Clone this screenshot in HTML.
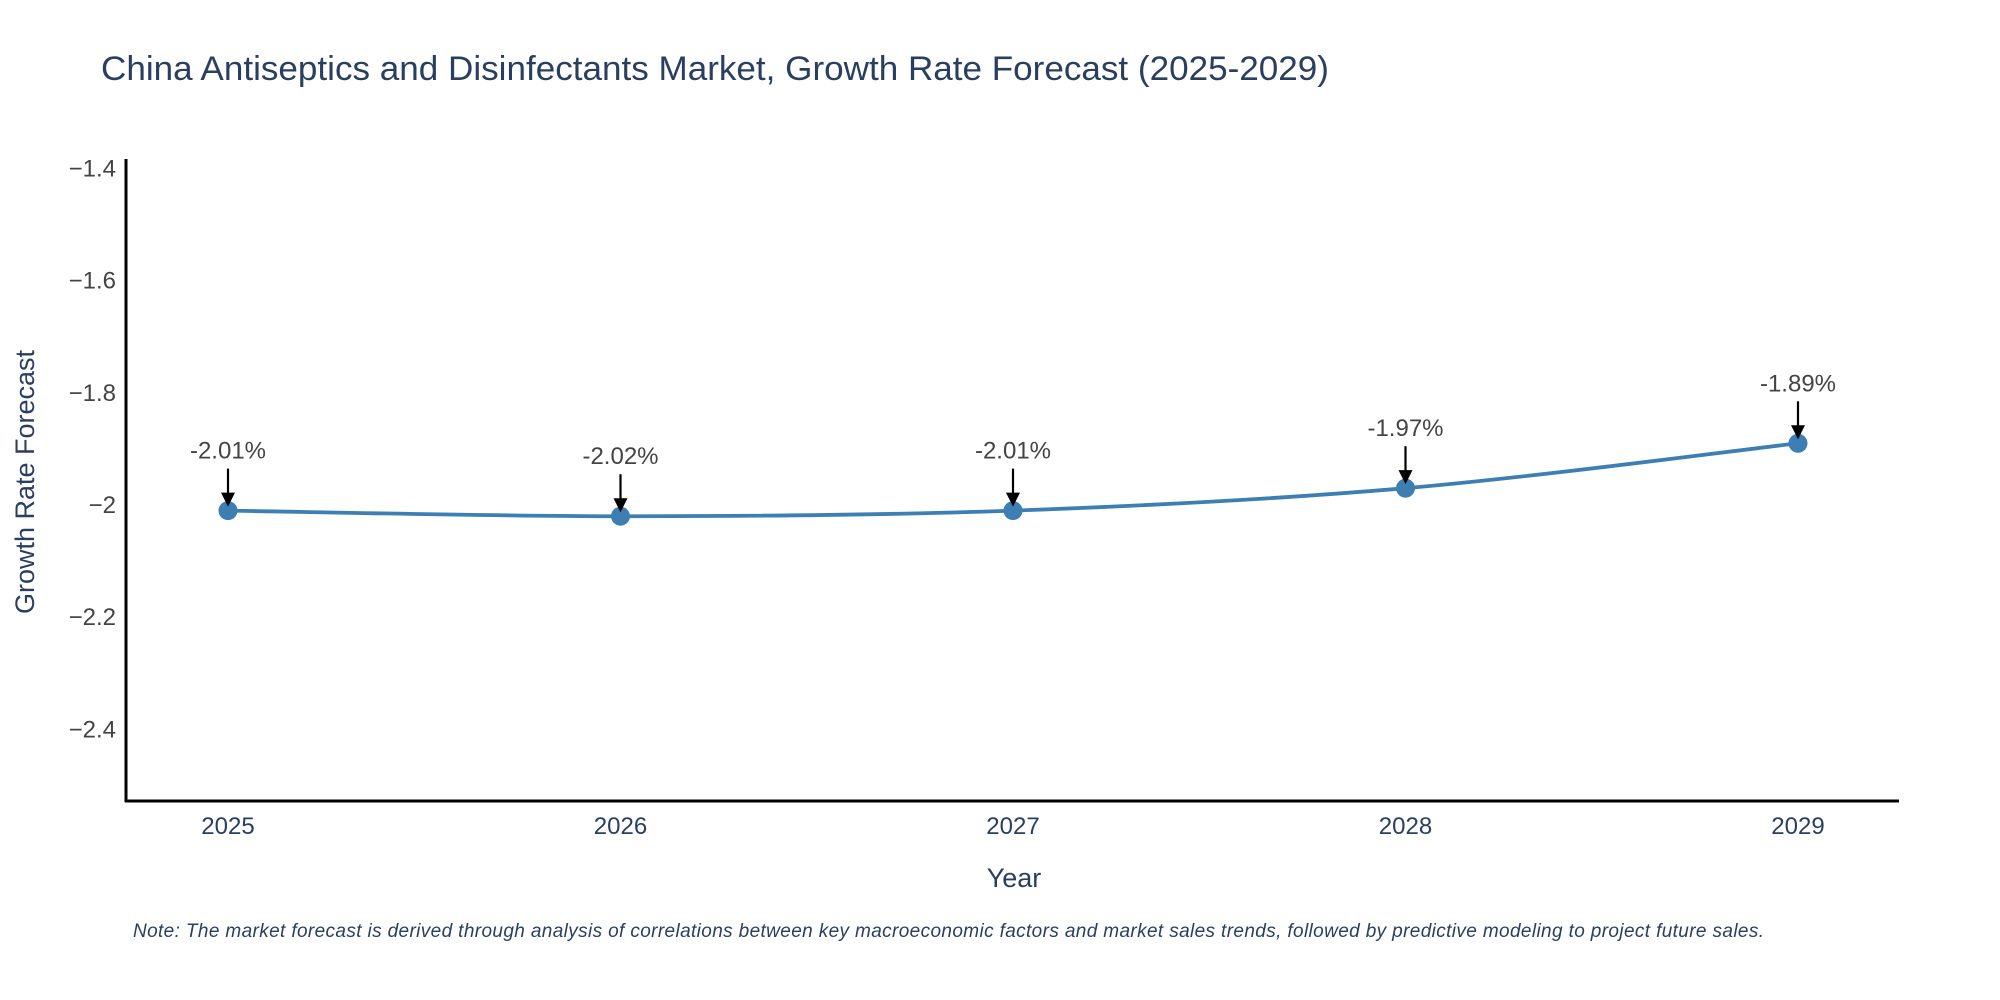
<!DOCTYPE html>
<html><head><meta charset="utf-8"><style>
html,body{margin:0;padding:0;background:#fff;}
svg{display:block;font-family:"Liberation Sans",sans-serif;}
</style></head><body>
<svg id="chart" width="2000" height="1000">
<text x="101" y="80" font-size="34" fill="#2a3f5f" textLength="1228" lengthAdjust="spacingAndGlyphs">China Antiseptics and Disinfectants Market, Growth Rate Forecast (2025-2029)</text>
<g id="yticks"></g>
<g id="xticks"></g>
<line x1="126" y1="159" x2="126" y2="802" stroke="#000" stroke-width="3"/>
<line x1="125" y1="801" x2="1899" y2="801" stroke="#000" stroke-width="3"/>
<text x="1014" y="887" font-size="27" fill="#2a3f5f" text-anchor="middle">Year</text>
<text transform="translate(34,482) rotate(-90)" font-size="27" fill="#2a3f5f" text-anchor="middle">Growth Rate Forecast</text>
<g id="series"></g>
<text x="133" y="937" font-size="19" font-style="italic" fill="#2a3f5f" textLength="1631">Note: The market forecast is derived through analysis of correlations between key macroeconomic factors and market sales trends, followed by predictive modeling to project future sales.</text>
</svg>
<script>
const years = [2025, 2026, 2027, 2028, 2029];
const growth = [-2.01, -2.02, -2.01, -1.97, -1.89];
const labels = ["-2.01%", "-2.02%", "-2.01%", "-1.97%", "-1.89%"];
const yTicks = [-1.4, -1.6, -1.8, -2, -2.2, -2.4];
const yTickLabels = ["\u22121.4", "\u22121.6", "\u22121.8", "\u22122", "\u22122.2", "\u22122.4"];

const NS = "http://www.w3.org/2000/svg";
const xScale = v => 228 + (v - 2025) * 392.5;
const yScale = v => 505 + (v - (-2)) * -561;
function mk(tag, attrs, parent) {
  const e = document.createElementNS(NS, tag);
  for (const k in attrs) e.setAttribute(k, attrs[k]);
  parent.appendChild(e);
  return e;
}
const yt = document.getElementById('yticks');
yTicks.forEach((t, i) => {
  const e = mk('text', {x: 116, y: yScale(t) + 8, 'font-size': 24, fill: '#444', 'text-anchor': 'end'}, yt);
  e.textContent = yTickLabels[i];
  
  
});
const xt = document.getElementById('xticks');
years.forEach(y => {
  const e = mk('text', {x: xScale(y), y: 834, 'font-size': 24, fill: '#2a3f5f', 'text-anchor': 'middle'}, xt);
  e.textContent = String(y);
  
  
});
const s = document.getElementById('series');
const pts = years.map((y, i) => [xScale(y), yScale(growth[i])]);
let d = `M${pts[0][0]},${pts[0][1]}`;
for (let i = 0; i < pts.length - 1; i++) {
  const p0 = pts[Math.max(0, i - 1)], p1 = pts[i], p2 = pts[i + 1], p3 = pts[Math.min(pts.length - 1, i + 2)];
  const t = 0.25;
  const c1 = [p1[0] + (p2[0] - p0[0]) * t / 1.5, p1[1] + (p2[1] - p0[1]) * t / 1.5];
  const c2 = [p2[0] - (p3[0] - p1[0]) * t / 1.5, p2[1] - (p3[1] - p1[1]) * t / 1.5];
  d += ` C${c1[0]},${c1[1]} ${c2[0]},${c2[1]} ${p2[0]},${p2[1]}`;
}
const line = mk('path', {d: d, fill: 'none', stroke: '#3d7fb3', 'stroke-width': 3.8}, s);


pts.forEach((p, i) => {
  const c = mk('circle', {cx: p[0], cy: p[1], r: 9.5, fill: '#3d7fb3'}, s);
  
  
  const a = mk('line', {x1: p[0], y1: p[1] - 42, x2: p[0], y2: p[1] - 14, stroke: '#000', 'stroke-width': 2.2}, s);
  
  
  const h = mk('polygon', {points: `${p[0]-7},${p[1]-18} ${p[0]+7},${p[1]-18} ${p[0]},${p[1]-4}`, fill: '#000'}, s);
  
  
  const tx = mk('text', {x: p[0], y: p[1] - 52, 'font-size': 24, fill: '#444', 'text-anchor': 'middle'}, s);
  tx.textContent = labels[i];
  
  
});
</script>
</body></html>
